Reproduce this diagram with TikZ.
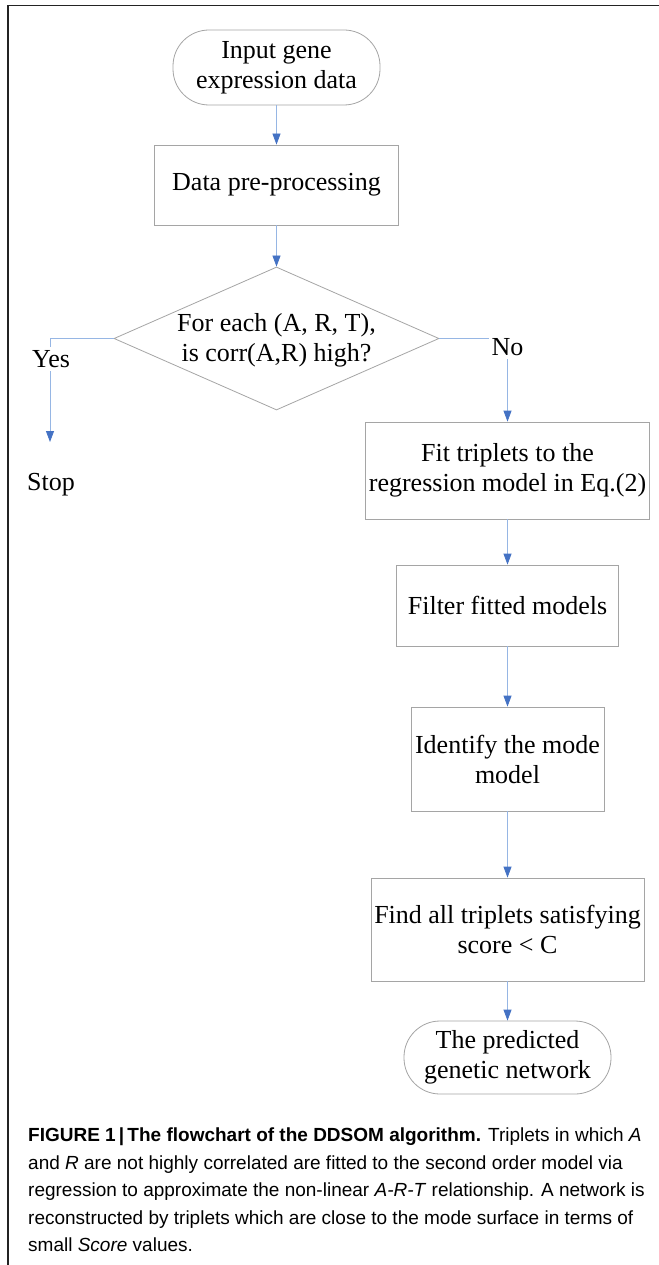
\documentclass[tikz,border=0pt]{standalone}
\usepackage{fontspec}
\setmainfont{Liberation Serif}
\newfontfamily\capfont{Liberation Sans}
\usetikzlibrary{arrows.meta,shapes.geometric}
\definecolor{lineblue}{RGB}{150,182,228}
\definecolor{arrowblue}{RGB}{68,114,196}
\definecolor{boxgray}{RGB}{165,165,165}
\definecolor{framegray}{RGB}{35,35,35}
\tikzset{
  flowtext/.style={font=\fontsize{26}{30}\selectfont, align=center, inner sep=0pt},
  procbox/.style={flowtext, draw=boxgray, line width=0.8pt, rectangle},
  terminal/.style={flowtext, draw=boxgray, line width=0.8pt, rectangle, rounded corners=36pt},
  decision/.style={diamond, draw=boxgray, line width=0.8pt, inner sep=0pt, minimum width=325pt, minimum height=143pt},
  conn/.style={draw=lineblue, line width=0.8pt, -{Triangle[length=11pt,width=8pt,color=arrowblue]}},
  branchlabel/.style={font=\fontsize{26}{30}\selectfont, fill=white, inner sep=3pt},
}
\begin{document}
\begin{tikzpicture}[x=1pt,y=-1pt]
\useasboundingbox (0,0) rectangle (658,1265);
\fill[white] (0,0) rectangle (658,1265);
% frame
\draw[framegray, line width=1.5pt] (8,1266) -- (8,5.7) -- (659,5.7);

% left column
\node[terminal, minimum width=207pt, minimum height=75pt] (start) at (276.5,67.5) {Input gene\\expression data};
\node[procbox, minimum width=244pt, minimum height=80pt] (pre) at (276.5,185) {Data pre-processing};
\node[decision] (dia) at (276.5,338.5) {};
\node[flowtext] (diatext) at (276.5,340) {For each (A, R, T),\\is corr(A,R) high?};
\node[flowtext] (stop) at (51,485) {Stop};
\coordinate (yesend) at (50,442);

% right column
\node[procbox, minimum width=284pt, minimum height=97pt] (fit) at (507.5,470.5) {Fit triplets to the\\regression model in Eq.(2)};
\node[procbox, minimum width=222pt, minimum height=81pt] (filter) at (507.5,605.5) {Filter fitted models};
\node[procbox, minimum width=193pt, minimum height=104pt] (ident) at (507.5,759) {Identify the mode\\model};
\node[procbox, minimum width=273pt, minimum height=103pt] (find) at (507.5,929.5) {Find all triplets satisfying\\score {\char`\<} C};
\node[terminal, minimum width=207pt, minimum height=73pt] (final) at (507.5,1057.5) {The predicted\\genetic network};

% connectors
\draw[conn] (start) -- (pre);
\draw[conn] (pre) -- (dia);
\draw[conn] (dia.west) -| (yesend);
\draw[conn] (dia.east) -| (fit.north);
\draw[conn] (fit) -- (filter);
\draw[conn] (filter) -- (ident);
\draw[conn] (ident) -- (find);
\draw[conn] (find) -- (final);

% branch labels
\node[branchlabel] (yes) at (51,359) {Yes};
\node[branchlabel] (no) at (507.5,347) {No};

% caption
\node[anchor=north west, inner sep=0pt, align=left,
      font=\capfont\fontsize{19}{27.5}\selectfont] (caption) at (28,1128)
{\textbf{FIGURE 1\,|\,The flowchart of the DDSOM algorithm.} Triplets in which \textit{A}\\
and \textit{R} are not highly correlated are fitted to the second order model via\\
regression to approximate the non-linear \textit{A-R-T} relationship. A network is\\
reconstructed by triplets which are close to the mode surface in terms of\\
small \textit{Score} values.};
\end{tikzpicture}
\end{document}
